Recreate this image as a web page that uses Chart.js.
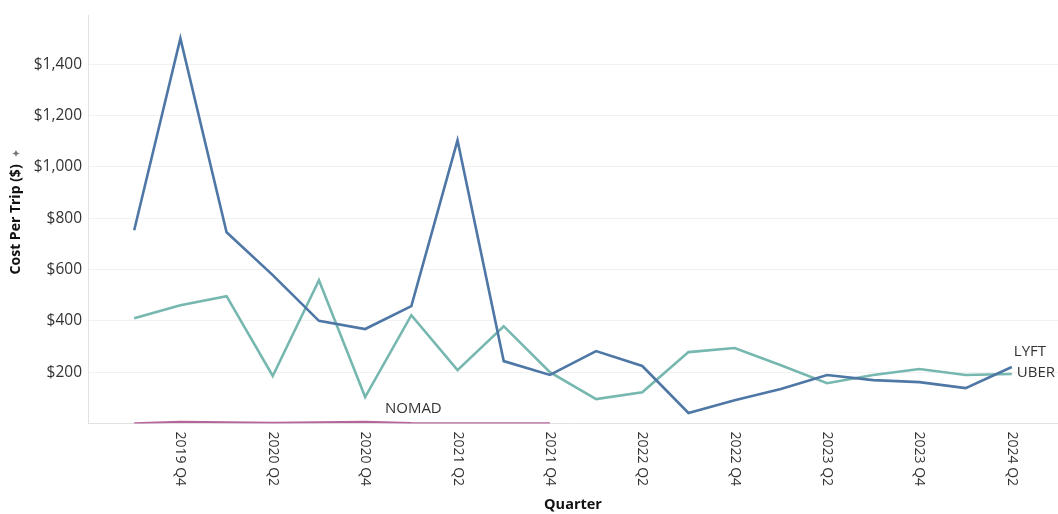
<!DOCTYPE html>
<html>
<head>
<meta charset="utf-8">
<script src="https://cdn.jsdelivr.net/npm/chart.js@4"></script>
<style>
  html,body{margin:0;padding:0;background:#fff}
  #wrap{width:1058px;height:514px;position:relative}
</style>
</head>
<body>
<div id="wrap"><canvas id="myChart"></canvas></div>
<script>
// ─── DATOS ───
const quarters = ['2019 Q3','2019 Q4','2020 Q1','2020 Q2','2020 Q3','2020 Q4','2021 Q1','2021 Q2','2021 Q3','2021 Q4',
  '2022 Q1','2022 Q2','2022 Q3','2022 Q4','2023 Q1','2023 Q2','2023 Q3','2023 Q4','2024 Q1','2024 Q2'];
const lyft  = [753,1500,745,578,400,368,457,1103,243,189,282,224,41,91,134,189,169,161,138,220];
const uber  = [410,461,496,185,558,103,422,208,379,200,95,122,278,294,227,157,189,212,189,193];
const nomad = [1,7,5,3,5,7,2,1,1,1];
const yTicks = [200,400,600,800,1000,1200,1400];

const pts = arr => arr.map((v,i)=>({x:i,y:v}));
const txt = '#333';

Chart.defaults.font.family = "'Open Sans', sans-serif";
Chart.defaults.color = txt;

// etiquetas de marca al final de cada línea + ejes X girados
const labelsPlugin = {
  id:'labels',
  afterDatasetsDraw(chart) {
    const ctx = chart.ctx;
    ctx.save();
    ctx.font = "15px 'Open Sans', sans-serif";
    ctx.fillStyle = txt;
    ctx.textBaseline = 'middle';
    chart.data.datasets.forEach((ds,di) => {
      const meta = chart.getDatasetMeta(di);
      const p = meta.data[ds.labelAt];
      if (!p) return;
      ctx.textAlign = ds.labelAlign;
      ctx.fillText(ds.label, p.x + ds.labelDx, p.y + ds.labelDy);
    });
    ctx.restore();
  },
  afterDraw(chart) {
    const ctx = chart.ctx, xs = chart.scales.x, area = chart.chartArea;
    ctx.save();
    ctx.font = "14px 'Open Sans', sans-serif";
    ctx.fillStyle = txt;
    ctx.textAlign = 'left';
    ctx.textBaseline = 'middle';
    quarters.forEach((q,i) => {
      if (i % 2 !== 1) return;
      ctx.save();
      ctx.translate(xs.getPixelForValue(i), area.bottom + 8);
      ctx.rotate(Math.PI/2);
      ctx.fillText(q, 0, 0);
      ctx.restore();
    });
    // chincheta junto al título del eje Y
    const ys = chart.scales.y;
    ctx.fillStyle = '#777';
    ctx.font = "11px 'DejaVu Sans', sans-serif";
    ctx.translate(ys.left + 17, (area.top + area.bottom) / 2 - 66);
    ctx.rotate(-Math.PI/2);
    ctx.textAlign = 'center';
    ctx.fillText('✦', 0, 0);
    ctx.restore();
  }
};

new Chart(document.getElementById('myChart').getContext('2d'), {
  type:'line',
  data:{datasets:[
    {label:'LYFT', data:pts(lyft), borderColor:'#4e77a6', borderWidth:2.6,
      labelAt:lyft.length-1, labelAlign:'left', labelDx:2, labelDy:-15},
    {label:'UBER', data:pts(uber), borderColor:'#76b7b0', borderWidth:2.6,
      labelAt:uber.length-1, labelAlign:'left', labelDx:5, labelDy:-1},
    {label:'NOMAD', data:pts(nomad), borderColor:'#b5659c', borderWidth:2,
      labelAt:6, labelAlign:'center', labelDx:2, labelDy:-14}
  ]},
  options:{
    responsive:true, maintainAspectRatio:false, animation:false,
    layout:{padding:{top:15,right:0,left:0,bottom:0}},
    elements:{point:{radius:0}, line:{tension:0}},
    plugins:{legend:{display:false}, tooltip:{enabled:false}},
    scales:{
      x:{type:'linear', min:-1, max:quarters.length,
        grid:{display:false},
        border:{display:true, color:'#e2e2e2'},
        ticks:{display:false},
        title:{display:true, text:'Quarter', color:'#111', font:{size:14.5, weight:'bold'}, padding:{top:0,bottom:0}},
        afterFit:s=>{ s.height = 90.5; }
      },
      y:{min:0, max:1590,
        afterBuildTicks:s=>{ s.ticks = yTicks.map(v=>({value:v})); },
        grid:{color:'#f1f1f1', drawTicks:false},
        border:{display:true, color:'#e2e2e2'},
        ticks:{padding:6, font:{size:15.5}, color:txt, callback:v=>'$'+v.toLocaleString('en-US')},
        title:{display:true, text:'Cost Per Trip ($)', color:'#111', font:{size:14, weight:'bold'}, padding:{top:8,bottom:0}},
        afterFit:s=>{ s.width = 88; }
      }
    }
  },
  plugins:[labelsPlugin]
});
</script>
</body>
</html>
